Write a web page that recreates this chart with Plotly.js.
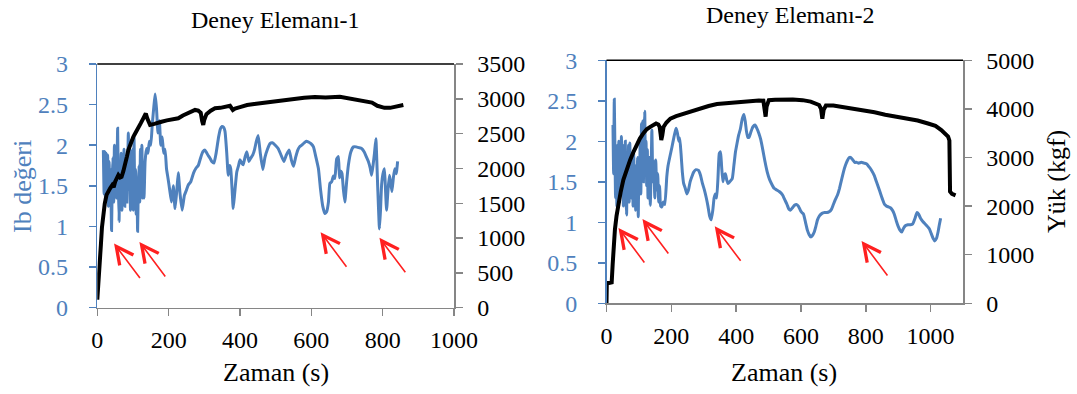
<!DOCTYPE html>
<html><head><meta charset="utf-8">
<script src="https://cdn.plot.ly/plotly-3.0.1.min.js"></script>
<style>html,body{margin:0;padding:0;background:#fff}</style>
</head><body><div id="chart" style="width:1077px;height:394px"></div>
<script>
// ---------- Deney Elemanı-1 ----------
const time1Ib = [17,19,21,23,25,27,29,31,33,35,37,40,42,44,46,48,50,52,54,57,59,61,63,65,67,69,71,73,75,77,79,81,83,85,87,89,91,93,95,97,99,101,103,105,107,109,111,113,115,117,119,121,123,125,127,129,131,134,138,142,146,150,154,158,162,166,170,174,178,182,186,190,194,198,203,208,213,218,223,227,232,238,244,250,255,262,270,277,283,290,296,302,310,316,321,327,333,340,345,349,354,358,363,367,371,374,378,381,385,391,396,400,405,409,414,419,425,430,436,441,446,451,457,464,470,477,484,491,499,507,515,523,530,538,544,550,556,562,567,573,580,586,592,599,606,613,620,626,632,638,643,648,652,657,662,666,671,676,679,683,686,690,694,699,704,711,718,726,733,741,748,755,760,765,769,773,777,781,786,791,794,797,801,805,808,811,815,819,822,826,830,834,838,842];
const ib1 = [1.94,1.40,1.92,1.30,1.90,1.55,1.88,1.25,1.80,1.50,1.70,0.95,1.60,1.85,1.30,2.00,1.45,1.95,1.35,2.21,1.50,1.06,1.75,1.40,1.90,1.20,1.75,1.45,1.95,1.25,1.60,1.85,1.30,1.70,2.15,1.45,1.95,1.20,1.75,1.50,1.95,1.20,2.10,1.40,1.70,1.15,1.55,0.94,1.50,1.75,1.30,1.95,1.45,2.00,1.35,1.70,1.35,1.80,1.96,1.90,2.05,2.00,2.25,2.45,2.63,2.45,2.15,2.30,2.00,2.10,1.90,1.95,1.71,1.60,1.45,1.30,1.50,1.22,1.45,1.66,1.40,1.20,1.38,1.45,1.51,1.55,1.66,1.72,1.75,1.85,1.92,1.94,1.88,1.84,1.80,1.78,1.90,2.10,2.20,2.23,2.22,2.17,1.90,1.63,1.75,1.71,1.45,1.22,1.40,1.67,1.75,1.82,1.78,1.76,1.85,1.92,1.80,1.84,1.88,1.95,2.05,2.12,1.90,1.70,1.85,1.95,2.02,2.03,2.00,1.96,1.88,1.80,1.88,1.94,1.82,1.74,1.85,1.94,1.98,2.00,2.03,2.05,2.04,2.02,1.98,1.85,1.71,1.45,1.25,1.16,1.18,1.30,1.53,1.55,1.62,1.59,1.83,1.86,1.60,1.68,1.65,1.45,1.30,1.55,1.76,1.92,1.98,1.98,1.97,1.96,1.92,1.85,1.80,1.72,1.63,1.75,1.90,2.08,1.50,0.97,1.20,1.51,1.65,1.71,1.45,1.20,1.45,1.63,1.55,1.43,1.60,1.71,1.65,1.80];
const time1Load = [0,3,5,7,10,13,17,21,26,31,36,42,46,50,55,59,64,68,73,78,83,87,94,101,108,115,122,129,133,136,140,144,148,160,170,180,195,210,227,240,255,265,274,283,290,294,297,300,306,318,330,345,360,372,380,386,400,420,440,456,480,500,525,550,580,610,640,680,705,727,750,770,785,793,805,821,835,845,858];
const load1 = [115,300,422,600,900,1150,1380,1500,1620,1680,1715,1760,1730,1810,1860,1905,1870,1880,1960,2050,2170,2265,2370,2455,2520,2575,2650,2720,2770,2790,2720,2660,2625,2640,2660,2670,2690,2705,2720,2760,2790,2810,2840,2830,2800,2680,2625,2700,2780,2830,2865,2870,2880,2900,2840,2860,2880,2910,2925,2935,2950,2970,2990,3005,3015,3025,3020,3030,3010,2985,2970,2945,2900,2885,2870,2870,2890,2905,2910];
const arrows1T = [47,118,626,791];
const arrows1Ib = [0.79,0.81,0.93,0.86];

// ---------- Deney Elemanı-2 ----------
const time2Ib = [20,22,24,26,28,30,32,34,36,38,40,42,44,46,48,50,52,54,56,58,60,62,64,66,68,70,72,74,76,78,80,82,84,86,88,90,92,94,96,98,100,102,104,106,108,110,112,114,116,118,120,122,124,126,128,130,132,135,138,140,143,146,149,152,155,158,161,164,167,171,175,180,186,190,195,202,208,212,215,219,223,226,230,234,238,243,248,253,258,263,269,276,284,290,296,302,308,313,318,323,328,332,336,340,344,348,352,355,359,363,367,371,375,380,388,393,398,403,408,413,419,424,428,432,436,440,446,452,458,464,470,476,482,489,496,503,510,517,525,533,543,550,557,563,568,574,580,586,592,598,603,608,614,620,625,630,636,641,646,651,657,665,672,680,687,694,700,706,713,719,725,731,737,743,749,754,760,766,772,778,786,795,803,811,818,826,833,840,846,852,858,864,870,876,882,888,894,900,906,911,917,923,930,938,945,952,958,963,969,976,983,990,996,1002,1008,1013,1018,1023,1027,1031];
const ib2 = [2.20,1.60,2.52,1.90,1.30,1.85,1.20,1.95,1.40,2.00,1.25,1.75,1.45,2.06,1.35,1.95,1.20,1.85,1.50,2.00,1.30,1.09,1.70,1.40,1.95,1.25,1.98,1.50,1.80,1.30,1.70,1.20,1.85,1.45,1.70,1.15,1.60,1.35,1.80,1.07,1.75,1.45,2.05,1.35,2.22,1.55,2.25,1.50,2.10,2.37,1.70,2.00,1.45,1.90,1.30,1.80,1.45,1.21,1.70,2.14,1.50,1.75,1.30,1.77,1.40,1.60,1.25,1.45,1.20,1.19,1.25,1.22,1.56,1.70,1.80,1.93,2.05,2.12,2.16,2.10,2.00,2.04,1.85,1.62,1.48,1.42,1.35,1.40,1.50,1.56,1.62,1.65,1.64,1.58,1.48,1.40,1.30,1.20,1.08,1.03,1.15,1.30,1.35,1.30,1.55,1.85,1.87,1.70,1.50,1.58,1.60,1.52,1.48,1.50,1.54,1.70,1.87,1.98,2.08,2.15,2.28,2.33,2.25,2.12,2.05,2.05,2.12,2.18,2.20,2.16,2.10,2.02,1.90,1.75,1.62,1.53,1.47,1.42,1.40,1.38,1.34,1.28,1.22,1.16,1.15,1.18,1.21,1.22,1.20,1.15,1.12,1.10,1.00,0.90,0.85,0.82,0.84,0.88,0.95,1.03,1.08,1.11,1.12,1.12,1.13,1.16,1.22,1.28,1.34,1.42,1.52,1.62,1.70,1.76,1.80,1.80,1.77,1.74,1.74,1.73,1.74,1.73,1.72,1.68,1.64,1.58,1.50,1.42,1.35,1.28,1.22,1.20,1.19,1.18,1.15,1.10,1.02,0.95,0.90,0.88,0.93,0.96,0.97,0.97,0.98,1.05,1.12,1.10,1.05,1.01,0.98,0.95,0.92,0.86,0.80,0.77,0.80,0.88,0.97,1.05];
const time2Load = [0,1,8,16,19,22,26,31,37,44,52,62,73,83,93,103,114,124,135,145,153,160,164,167,169,172,176,185,197,215,238,262,290,315,341,370,400,439,470,484,488,491,494,501,520,543,575,605,630,656,662,666,670,677,700,723,760,800,827,860,900,930,960,992,1015,1033,1045,1054,1058,1059,1060,1066,1077];
const load2 = [0,420,420,430,800,1150,1520,1800,2065,2300,2540,2760,2950,3110,3260,3390,3500,3580,3630,3670,3700,3680,3630,3480,3360,3450,3630,3720,3800,3850,3900,3960,4010,4060,4100,4120,4140,4160,4175,4170,4000,3840,4050,4180,4190,4200,4195,4180,4150,4080,4000,3800,3980,4070,4070,4045,4010,3970,3930,3880,3840,3800,3760,3700,3650,3565,3500,3430,3350,2800,2300,2250,2220];
const arrows2T = [37,111,334,787];
const arrows2Ib = [0.93,1.04,0.95,0.77];

// ---------- Text ----------
const chartTitles = ['Deney Elemanı-1', 'Deney Elemanı-2'];
const xTitle = 'Zaman (s)';
const ibTitle = 'Ib değeri';
const loadTitle = 'Yük (kgf)';

// ---------- Styling ----------
const BLUE = '#4F81BD';
const GRAY = '#868686';
const FONT = "'Liberation Serif'";
const TICK = 24;
const TITLE = 24;
const AXT = 26;

const traces = [
  {x: time1Ib, y: ib1, xaxis: 'x', yaxis: 'y', mode: 'lines', line: {color: BLUE, width: 3, shape: 'spline', smoothing: 0.4}, hoverinfo: 'skip'},
  {x: time1Load, y: load1, xaxis: 'x', yaxis: 'y2', mode: 'lines', line: {color: '#000', width: 4}, hoverinfo: 'skip'},
  {x: time2Ib, y: ib2, xaxis: 'x2', yaxis: 'y3', mode: 'lines', line: {color: BLUE, width: 3, shape: 'spline', smoothing: 0.4}, hoverinfo: 'skip'},
  {x: time2Load, y: load2, xaxis: 'x2', yaxis: 'y4', mode: 'lines', line: {color: '#000', width: 4}, hoverinfo: 'skip'}
];

function xAxis(domain, anchor, range) {
  return {domain: domain, anchor: anchor, range: range, dtick: 200, tick0: 0,
    showgrid: false, zeroline: false, showline: true, linecolor: GRAY, linewidth: 1.5,
    ticks: 'outside', ticklen: 7, tickcolor: GRAY, tickwidth: 1.5,
    tickfont: {family: FONT, size: TICK, color: '#000'}, ticklabelstandoff: 3, tickformat: 'd'};
}
function ibAxis(domain, anchor) {
  return {domain: domain, anchor: anchor, range: [0, 3], dtick: 0.5, tick0: 0,
    showgrid: false, zeroline: false, showline: true, linecolor: BLUE, linewidth: 1.5,
    ticks: 'outside', ticklen: 7, tickcolor: BLUE, tickwidth: 1.5,
    tickfont: {family: FONT, size: TICK, color: BLUE}, ticklabelstandoff: 16};
}
function loadAxis(overlay, anchor, range, dtick) {
  return {overlaying: overlay, anchor: anchor, side: 'right', range: range, dtick: dtick, tick0: 0,
    showgrid: false, zeroline: false, showline: true, linecolor: GRAY, linewidth: 1.5,
    ticks: 'outside', ticklen: 7, tickcolor: GRAY, tickwidth: 1.5,
    tickfont: {family: FONT, size: TICK, color: '#000'}, ticklabelstandoff: 10, tickformat: 'd'};
}

const arrowAnn = [];
function addArrows(ts, vs, xr, yr) {
  for (let i = 0; i < ts.length; i++) {
    arrowAnn.push({x: ts[i], y: vs[i], xref: xr, yref: yr, text: '', showarrow: true,
      ax: 27, ay: 36, axref: 'pixel', ayref: 'pixel',
      arrowcolor: '#FF2020', arrowwidth: 1.6, arrowhead: 5, arrowsize: 2.1});
  }
}
addArrows(arrows1T, arrows1Ib, 'x', 'y');
addArrows(arrows2T, arrows2Ib, 'x2', 'y3');

const textAnn = [
  {text: chartTitles[0], x: 275/1077, y: 1 - 20/394, size: TITLE},
  {text: chartTitles[1], x: 790/1077, y: 1 - 15/394, size: TITLE},
  {text: xTitle, x: 276/1077, y: 1 - 372/394, size: AXT},
  {text: xTitle, x: 784/1077, y: 1 - 372/394, size: AXT},
  {text: ibTitle, x: 22/1077, y: 1 - 187/394, textangle: -90, color: BLUE, size: AXT},
  {text: loadTitle, x: 1057/1077, y: 1 - 182/394, textangle: -90, size: AXT}
].map(a => ({text: a.text, x: a.x, y: a.y, xref: 'paper', yref: 'paper', xanchor: 'center', yanchor: 'middle',
  showarrow: false, textangle: a.textangle || 0, font: {family: FONT, size: a.size, color: a.color || '#000'}}));

const layout = {
  width: 1077, height: 394, margin: {l: 0, r: 0, t: 0, b: 0},
  paper_bgcolor: '#fff', plot_bgcolor: '#fff', showlegend: false,
  font: {family: FONT},
  xaxis: xAxis([97.3/1077, 454/1077], 'y', [0, 1000]),
  yaxis: ibAxis([1 - 307.7/394, 1 - 64/394], 'x'),
  yaxis2: loadAxis('y', 'x', [0, 3500], 500),
  xaxis2: xAxis([606.5/1077, 963/1077], 'y3', [0, 1100]),
  yaxis3: ibAxis([1 - 303.3/394, 1 - 60.3/394], 'x2'),
  yaxis4: loadAxis('y3', 'x2', [0, 5000], 1000),
  shapes: [
    {type: 'line', xref: 'x domain', yref: 'y domain', x0: 0, x1: 1, y0: 1, y1: 1, line: {color: '#000', width: 1.5}},
    {type: 'line', xref: 'x2 domain', yref: 'y3 domain', x0: 0, x1: 1, y0: 1, y1: 1, line: {color: '#000', width: 1.5}}
  ],
  annotations: arrowAnn.concat(textAnn)
};

Plotly.newPlot('chart', traces, layout, {displayModeBar: false, staticPlot: true});
</script></body></html>
